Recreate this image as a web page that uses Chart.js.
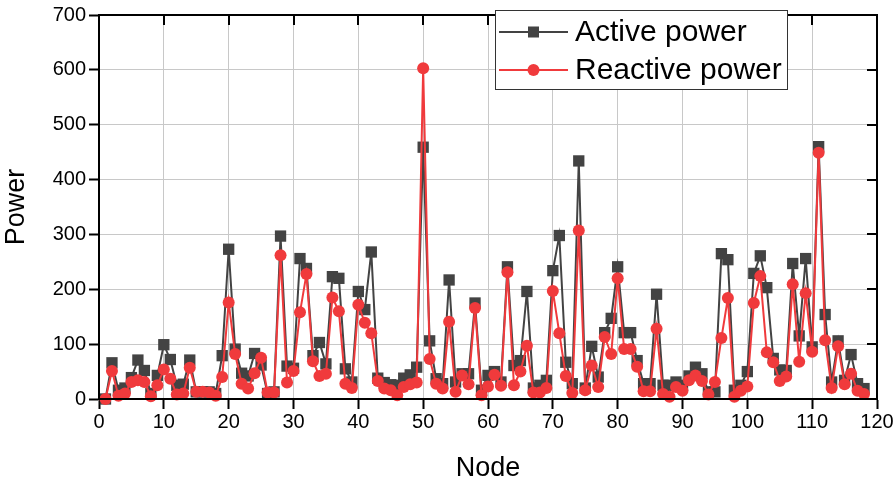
<!DOCTYPE html>
<html>
<head>
<meta charset="utf-8">
<script src="https://cdn.jsdelivr.net/npm/chart.js@4.4.1/dist/chart.umd.min.js"></script>
<style>
  html, body { margin: 0; padding: 0; background: #fff; }
  #wrap { width: 896px; height: 485px; }
</style>
</head>
<body>
<div id="wrap"><canvas id="powerChart" width="896" height="485"></canvas></div>
<script>
// Values, node 1..118
const activePower = [
  0, 66, 16, 20, 39, 71, 52, 10, 43, 99,
  72, 25, 27, 71, 13, 13, 13, 10, 79, 273,
  91, 47, 42, 83, 62, 10, 13, 297, 60, 56,
  256, 238, 79, 103, 64, 223, 220, 55, 31, 196,
  163, 268, 38, 30, 26, 25, 38, 44, 58, 459,
  106, 37, 28, 217, 31, 46, 46, 175, 16, 43,
  50, 31, 241, 61, 70, 196, 20, 25, 34, 234,
  298, 67, 28, 434, 20, 96, 40, 121, 147, 241,
  121, 121, 70, 28, 28, 191, 25, 25, 31, 25,
  42, 58, 46, 13, 13, 265, 254, 16, 25, 50,
  229, 261, 203, 74, 53, 52, 247, 115, 256, 95,
  460, 154, 31, 106, 34, 81, 28, 19
];
const reactivePower = [
  0, 51, 6, 10, 31, 34, 31, 5, 25, 54,
  37, 8, 10, 57, 13, 13, 12, 6, 40, 176,
  82, 28, 19, 47, 75, 12, 12, 262, 30, 51,
  158, 228, 69, 42, 46, 185, 160, 28, 20, 172,
  139, 120, 33, 19, 16, 7, 22, 27, 30, 603,
  73, 28, 19, 141, 13, 43, 27, 166, 7, 23,
  44, 24, 231, 25, 50, 97, 12, 12, 20, 197,
  120, 42, 11, 307, 16, 61, 22, 113, 82, 220,
  91, 91, 59, 14, 14, 128, 9, 4, 22, 15,
  34, 43, 33, 8, 31, 111, 184, 4, 15, 23,
  175, 224, 85, 67, 33, 41, 209, 68, 193, 86,
  449, 107, 20, 96, 27, 46, 15, 9
];
const seriesNames = ['Active power', 'Reactive power'];
const xTicks = [0, 10, 20, 30, 40, 50, 60, 70, 80, 90, 100, 110, 120];
const yTicks = [0, 100, 200, 300, 400, 500, 600, 700];

const activeColor = '#434343';
const reactiveColor = '#f03a3c';
const fontFamily = '"Liberation Sans", Arial, sans-serif';

// точки у форматі {x, y}
const activePoints = activePower.map((v, i) => ({ x: i + 1, y: v }));
const reactivePoints = reactivePower.map((v, i) => ({ x: i + 1, y: v }));

// рамка з внутрішніми рисками зверху і справа
const framePlugin = {
  id: 'frame',
  afterDraw(chart) {
    const { ctx, chartArea: a, scales } = chart;
    ctx.save();
    ctx.strokeStyle = '#000';
    ctx.lineWidth = 2;
    ctx.strokeRect(a.left, a.top, a.right - a.left, a.bottom - a.top);
    ctx.beginPath();
    xTicks.forEach(t => {
      const px = Math.round(scales.x.getPixelForValue(t));
      ctx.moveTo(px, a.top);
      ctx.lineTo(px, a.top + 10);
    });
    yTicks.forEach(t => {
      const py = Math.round(scales.y.getPixelForValue(t));
      ctx.moveTo(a.right, py);
      ctx.lineTo(a.right - 10, py);
    });
    ctx.stroke();
    ctx.restore();
  }
};

// легенда всередині області графіка
const legendPlugin = {
  id: 'boxLegend',
  afterDraw(chart) {
    const { ctx } = chart;
    const left = 495, top = 10, right = 787, bottom = 89;
    ctx.save();
    ctx.fillStyle = '#fff';
    ctx.fillRect(left, top, right - left, bottom - top);
    ctx.strokeStyle = '#333';
    ctx.lineWidth = 1;
    ctx.strokeRect(left + 0.5, top + 0.5, right - left, bottom - top);
    const rows = [
      { y: 32, color: activeColor, style: 'rect', label: seriesNames[0] },
      { y: 70, color: reactiveColor, style: 'circle', label: seriesNames[1] }
    ];
    rows.forEach(r => {
      ctx.strokeStyle = r.color;
      ctx.fillStyle = r.color;
      ctx.lineWidth = 2;
      ctx.beginPath();
      ctx.moveTo(499, r.y);
      ctx.lineTo(568, r.y);
      ctx.stroke();
      if (r.style === 'rect') {
        ctx.fillRect(528, r.y - 5.5, 11, 11);
      } else {
        ctx.beginPath();
        ctx.arc(533.5, r.y, 6, 0, Math.PI * 2);
        ctx.fill();
      }
      ctx.fillStyle = '#000';
      ctx.font = '30px ' + fontFamily;
      ctx.textBaseline = 'middle';
      ctx.textAlign = 'left';
      ctx.fillText(r.label, 575, r.y + 1);
    });
    ctx.restore();
  }
};

const canvas = document.getElementById('powerChart');
new Chart(canvas, {
  type: 'scatter',
  data: {
    datasets: [
      {
        label: seriesNames[0],
        data: activePoints,
        showLine: true,
        borderColor: activeColor,
        backgroundColor: activeColor,
        borderWidth: 2,
        pointStyle: 'rect',
        pointRadius: 8,
        pointBorderWidth: 0,
        tension: 0,
        clip: false,
        order: 1
      },
      {
        label: seriesNames[1],
        data: reactivePoints,
        showLine: true,
        borderColor: reactiveColor,
        backgroundColor: reactiveColor,
        borderWidth: 2,
        pointStyle: 'circle',
        pointRadius: 6,
        pointBorderWidth: 0,
        tension: 0,
        clip: false,
        order: 0
      }
    ]
  },
  options: {
    responsive: false,
    animation: false,
    layout: { padding: { left: 0, right: 19, top: 10, bottom: 0 } },
    plugins: {
      legend: { display: false },
      tooltip: { enabled: false }
    },
    scales: {
      x: {
        type: 'linear',
        min: 0,
        max: 120,
        afterBuildTicks(scale) { scale.ticks = xTicks.map(v => ({ value: v })); },
        afterFit(scale) { scale.height = 86; },
        grid: {
          color: '#c8c8c8',
          lineWidth: 1,
          drawTicks: true,
          tickLength: 10,
          tickColor: '#000',
          tickWidth: 2
        },
        border: { display: true, color: '#000', width: 2 },
        ticks: {
          color: '#000',
          padding: 1,
          maxRotation: 0,
          font: { family: fontFamily, size: 20 }
        },
        title: {
          display: true,
          text: 'Node',
          color: '#000',
          padding: { top: 6, bottom: 0 },
          font: { family: fontFamily, size: 27 }
        }
      },
      y: {
        min: 0,
        max: 700,
        afterBuildTicks(scale) { scale.ticks = yTicks.map(v => ({ value: v })); },
        afterFit(scale) { scale.width = 99; },
        grid: {
          color: '#c8c8c8',
          lineWidth: 1,
          drawTicks: true,
          tickLength: 10,
          tickColor: '#000',
          tickWidth: 2
        },
        border: { display: true, color: '#000', width: 2 },
        ticks: {
          color: '#000',
          padding: 3,
          font: { family: fontFamily, size: 20 }
        },
        title: {
          display: true,
          text: 'Power',
          color: '#000',
          padding: { top: 0, bottom: 4 },
          font: { family: fontFamily, size: 27 }
        }
      }
    }
  },
  plugins: [framePlugin, legendPlugin]
});
</script>
</body>
</html>
